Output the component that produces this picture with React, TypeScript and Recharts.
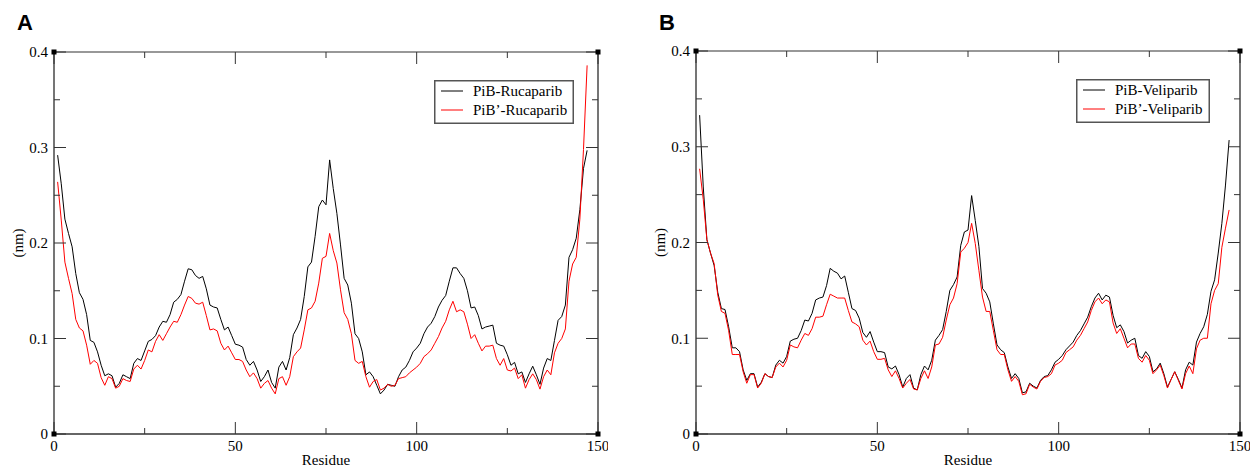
import React from 'react';
import { LineChart, Line, XAxis, YAxis, Legend, ReferenceDot } from 'recharts';

// residue numbers on the x axis
const residues = Array.from({ length: 147 }, (_, i) => i + 1);

const xMajor = [0, 50, 100, 150];
const xMinor = [25, 75, 125];
const yMajor = [0, 0.1, 0.2, 0.3, 0.4];
const yMinor = [0.05, 0.15, 0.25, 0.35];

const rucaNames: [string, string] = ['PiB-Rucaparib', 'PiB\u2019-Rucaparib'];
const veliNames: [string, string] = ['PiB-Veliparib', 'PiB\u2019-Veliparib'];

const rucaBlack = [
  0.292, 0.262, 0.225, 0.210, 0.196, 0.168, 0.148, 0.141, 0.125, 0.098,
  0.096, 0.086, 0.072, 0.061, 0.063, 0.061, 0.049, 0.053, 0.062, 0.060,
  0.058, 0.074, 0.079, 0.077, 0.087, 0.097, 0.099, 0.103, 0.112, 0.118,
  0.117, 0.125, 0.138, 0.141, 0.146, 0.160, 0.173, 0.172, 0.166, 0.163,
  0.165, 0.152, 0.135, 0.133, 0.132, 0.120, 0.109, 0.112, 0.103, 0.094,
  0.093, 0.091, 0.078, 0.072, 0.076, 0.067, 0.055, 0.060, 0.067, 0.054,
  0.048, 0.070, 0.076, 0.067, 0.080, 0.104, 0.111, 0.120, 0.144, 0.175,
  0.180, 0.207, 0.238, 0.245, 0.240, 0.287, 0.257, 0.231, 0.198, 0.163,
  0.156, 0.137, 0.105, 0.100, 0.086, 0.062, 0.065, 0.060, 0.051, 0.042,
  0.046, 0.052, 0.051, 0.050, 0.060, 0.067, 0.070, 0.077, 0.086, 0.090,
  0.095, 0.105, 0.112, 0.116, 0.123, 0.133, 0.140, 0.145, 0.160, 0.174,
  0.174, 0.168, 0.163, 0.150, 0.132, 0.133, 0.124, 0.110, 0.112, 0.113,
  0.114, 0.095, 0.093, 0.092, 0.083, 0.072, 0.075, 0.063, 0.065, 0.054,
  0.063, 0.071, 0.062, 0.052, 0.069, 0.079, 0.077, 0.098, 0.119, 0.123,
  0.135, 0.185, 0.193, 0.205, 0.235, 0.278, 0.297,
];

const rucaRed = [
  0.264, 0.224, 0.180, 0.163, 0.147, 0.120, 0.111, 0.108, 0.093, 0.073,
  0.077, 0.074, 0.059, 0.051, 0.060, 0.058, 0.048, 0.050, 0.058, 0.056,
  0.055, 0.068, 0.072, 0.068, 0.077, 0.088, 0.086, 0.097, 0.104, 0.098,
  0.105, 0.112, 0.118, 0.117, 0.125, 0.135, 0.144, 0.142, 0.137, 0.136,
  0.138, 0.124, 0.109, 0.110, 0.108, 0.095, 0.088, 0.092, 0.085, 0.078,
  0.078, 0.076, 0.067, 0.060, 0.064, 0.058, 0.048, 0.053, 0.056, 0.048,
  0.042, 0.058, 0.060, 0.051, 0.060, 0.081, 0.086, 0.090, 0.109, 0.130,
  0.132, 0.139, 0.158, 0.184, 0.186, 0.210, 0.192, 0.179, 0.151, 0.127,
  0.120, 0.105, 0.077, 0.074, 0.076, 0.060, 0.049, 0.055, 0.057, 0.046,
  0.048, 0.052, 0.050, 0.051, 0.058, 0.059, 0.060, 0.064, 0.067, 0.070,
  0.074, 0.081, 0.084, 0.088, 0.095, 0.102, 0.111, 0.118, 0.130, 0.139,
  0.128, 0.130, 0.128, 0.115, 0.100, 0.104, 0.095, 0.087, 0.092, 0.092,
  0.093, 0.079, 0.072, 0.079, 0.067, 0.066, 0.069, 0.058, 0.062, 0.048,
  0.057, 0.063, 0.057, 0.047, 0.060, 0.067, 0.062, 0.085, 0.095, 0.100,
  0.110, 0.160, 0.178, 0.185, 0.225, 0.298, 0.386,
];

const veliBlack = [
  0.333, 0.258, 0.203, 0.189, 0.176, 0.148, 0.131, 0.130, 0.112, 0.090,
  0.090, 0.086, 0.067, 0.056, 0.063, 0.063, 0.049, 0.054, 0.063, 0.060,
  0.059, 0.072, 0.077, 0.074, 0.081, 0.097, 0.099, 0.100, 0.108, 0.119,
  0.118, 0.126, 0.140, 0.142, 0.143, 0.155, 0.173, 0.170, 0.168, 0.162,
  0.165, 0.148, 0.131, 0.129, 0.121, 0.106, 0.101, 0.107, 0.096, 0.086,
  0.086, 0.085, 0.070, 0.068, 0.071, 0.062, 0.049, 0.058, 0.062, 0.048,
  0.046, 0.062, 0.071, 0.067, 0.077, 0.098, 0.103, 0.109, 0.128, 0.150,
  0.156, 0.164, 0.197, 0.211, 0.213, 0.249, 0.223, 0.196, 0.152, 0.147,
  0.138, 0.115, 0.093, 0.088, 0.085, 0.070, 0.058, 0.063, 0.058, 0.043,
  0.044, 0.053, 0.050, 0.048, 0.056, 0.060, 0.061, 0.067, 0.075, 0.078,
  0.082, 0.088, 0.092, 0.096, 0.103, 0.108, 0.115, 0.122, 0.133, 0.142,
  0.147, 0.140, 0.145, 0.143, 0.124, 0.111, 0.114, 0.107, 0.095, 0.098,
  0.100, 0.082, 0.079, 0.086, 0.081, 0.065, 0.068, 0.074, 0.063, 0.049,
  0.057, 0.065, 0.057, 0.048, 0.067, 0.075, 0.072, 0.096, 0.105, 0.112,
  0.125, 0.149, 0.161, 0.189, 0.220, 0.260, 0.307,
];

const veliRed = [
  0.277, 0.245, 0.203, 0.189, 0.178, 0.145, 0.128, 0.126, 0.108, 0.083,
  0.083, 0.083, 0.065, 0.053, 0.062, 0.062, 0.048, 0.053, 0.063, 0.060,
  0.059, 0.070, 0.074, 0.070, 0.077, 0.093, 0.091, 0.090, 0.098, 0.105,
  0.103, 0.110, 0.122, 0.122, 0.123, 0.135, 0.146, 0.144, 0.142, 0.142,
  0.142, 0.129, 0.117, 0.115, 0.112, 0.098, 0.093, 0.097, 0.086, 0.078,
  0.078, 0.079, 0.067, 0.060, 0.066, 0.058, 0.048, 0.053, 0.057, 0.047,
  0.046, 0.058, 0.066, 0.058, 0.070, 0.093, 0.094, 0.101, 0.119, 0.135,
  0.142, 0.157, 0.190, 0.194, 0.200, 0.220, 0.199, 0.171, 0.143, 0.128,
  0.128, 0.108, 0.088, 0.083, 0.083, 0.067, 0.055, 0.060, 0.055, 0.041,
  0.042, 0.052, 0.049, 0.047, 0.055, 0.059, 0.060, 0.063, 0.072, 0.074,
  0.077, 0.085, 0.088, 0.091, 0.098, 0.103, 0.110, 0.117, 0.129, 0.138,
  0.142, 0.136, 0.140, 0.138, 0.116, 0.105, 0.110, 0.100, 0.090, 0.094,
  0.094, 0.079, 0.075, 0.082, 0.077, 0.063, 0.067, 0.072, 0.061, 0.048,
  0.057, 0.065, 0.056, 0.047, 0.063, 0.071, 0.063, 0.089, 0.098, 0.100,
  0.100, 0.136, 0.150, 0.157, 0.195, 0.215, 0.234,
];

const SERIF = 'Liberation Serif, Times New Roman, serif';
const tickText = { fontSize: 15, fontFamily: SERIF, fill: '#000' };
const frame = { stroke: '#666', strokeWidth: 1.8 };

const fmtY = (v: number) => (v === 0 ? '0' : v.toFixed(1));

// xmgrace style: ticks point into the plot on all four sides
type TickMark = { x: number; y: number; dx: number; dy: number; len: number };
const tickMarks: TickMark[] = [
  ...xMajor.map((x) => ({ x, y: 0, dx: 0, dy: -1, len: 12 })),
  ...xMinor.map((x) => ({ x, y: 0, dx: 0, dy: -1, len: 6 })),
  ...xMajor.map((x) => ({ x, y: 0.4, dx: 0, dy: 1, len: 12 })),
  ...xMinor.map((x) => ({ x, y: 0.4, dx: 0, dy: 1, len: 6 })),
  ...yMajor.map((y) => ({ x: 0, y, dx: 1, dy: 0, len: 12 })),
  ...yMinor.map((y) => ({ x: 0, y, dx: 1, dy: 0, len: 6 })),
  ...yMajor.map((y) => ({ x: 150, y, dx: -1, dy: 0, len: 12 })),
  ...yMinor.map((y) => ({ x: 150, y, dx: -1, dy: 0, len: 6 })),
];

const corners = [
  { x: 0, y: 0 },
  { x: 0, y: 0.4 },
  { x: 150, y: 0 },
  { x: 150, y: 0.4 },
];

const cornerShape = (p: any) => <rect x={p.cx - 2.5} y={p.cy - 2.5} width={5} height={5} fill="#000" />;

const tickShape = (t: TickMark) => (p: any) => (
  <line
    x1={p.cx}
    y1={p.cy}
    x2={p.cx + t.dx * t.len}
    y2={p.cy + t.dy * t.len}
    stroke="#333"
    strokeWidth={1}
  />
);

const LegendBox = ({ payload, width }: { payload?: any[]; width: number }) => (
  <svg width={width} height={44} style={{ display: 'block' }}>
    <rect x={0.75} y={0.75} width={width - 1.5} height={42.5} fill="#fff" stroke="#555" strokeWidth={1.5} />
    {(payload || []).map((p, i) => (
      <g key={p.value}>
        <line x1={7} x2={29} y1={11 + i * 19} y2={11 + i * 19} stroke={p.color} strokeWidth={1} />
        <text x={39} y={16 + i * 19} fontSize={15} fontFamily={SERIF} fill="#000">
          {p.value}
        </text>
      </g>
    ))}
  </svg>
);

type PanelProps = {
  names: [string, string];
  black: number[];
  red: number[];
  top: number;
  legendWidth: number;
  legendTop: number;
};

const Panel = ({ names, black, red, top, legendWidth, legendTop }: PanelProps) => {
  const data = residues.map((r, i) => ({ residue: r, black: black[i], red: red[i] }));
  const midY = (top + 426) / 2;
  return (
    <LineChart width={600} height={464} data={data} margin={{ top, right: 10, left: 0, bottom: 8 }}>
      <XAxis
        xAxisId="bottom"
        dataKey="residue"
        type="number"
        domain={[0, 150]}
        ticks={xMajor}
        interval={0}
        height={30}
        tickSize={0}
        tickMargin={6}
        tickLine={false}
        tick={tickText}
        axisLine={frame}
        label={() => (
          <text x={318} y={457} textAnchor="middle" fontSize={15} fontFamily={SERIF} fill="#000">
            Residue
          </text>
        )}
      />
      <XAxis xAxisId="top" orientation="top" mirror type="number" domain={[0, 150]} ticks={xMajor}
        tick={false} tickLine={false} axisLine={{ stroke: '#333', strokeWidth: 1.2 }} />
      <YAxis
        yAxisId="left"
        type="number"
        domain={[0, 0.4]}
        ticks={yMajor}
        interval={0}
        width={46}
        tickSize={0}
        tickMargin={6}
        tickLine={false}
        tick={tickText}
        tickFormatter={fmtY}
        axisLine={frame}
        label={() => (
          <text
            x={10}
            y={midY}
            transform={`rotate(-90, 10, ${midY})`}
            textAnchor="middle"
            dy={5}
            fontSize={15}
            fontFamily={SERIF}
            fill="#000"
          >
            (nm)
          </text>
        )}
      />
      <YAxis yAxisId="right" orientation="right" mirror type="number" domain={[0, 0.4]} ticks={yMajor}
        tick={false} tickLine={false} axisLine={frame} />

      <Legend
        layout="vertical"
        align="center"
        verticalAlign="middle"
        wrapperStyle={{ left: 426, top: legendTop, width: legendWidth, height: 44 }}
        content={(p: any) => <LegendBox payload={p.payload} width={legendWidth} />}
      />
      <Line
        xAxisId="bottom"
        yAxisId="left"
        type="linear"
        dataKey="black"
        name={names[0]}
        stroke="#000000"
        strokeWidth={1}
        dot={false}
        isAnimationActive={false}
      />
      <Line
        xAxisId="bottom"
        yAxisId="left"
        type="linear"
        dataKey="red"
        name={names[1]}
        stroke="#ff0000"
        strokeWidth={1}
        dot={false}
        isAnimationActive={false}
      />
      {tickMarks.map((t) => (
        <ReferenceDot
          key={`t-${t.x}-${t.y}-${t.dx}-${t.dy}`}
          xAxisId="bottom"
          yAxisId="left"
          x={t.x}
          y={t.y}
          r={1}
          ifOverflow="visible"
          shape={tickShape(t)}
        />
      ))}
      {corners.map((c) => (
        <ReferenceDot
          key={`c-${c.x}-${c.y}`}
          xAxisId="bottom"
          yAxisId="left"
          x={c.x}
          y={c.y}
          r={3}
          ifOverflow="visible"
          shape={cornerShape}
        />
      ))}
    </LineChart>
  );
};

const letterStyle: React.CSSProperties = {
  position: 'absolute',
  top: 12,
  fontFamily: 'Liberation Sans, Arial, sans-serif',
  fontWeight: 'bold',
  fontSize: 22,
  lineHeight: '22px',
  color: '#000',
};

export default function App() {
  return (
    <div style={{ position: 'relative', width: 1253, height: 472, background: '#fff', overflow: 'hidden' }}>
      <style>{'html,body{margin:0;overflow:hidden;background:#fff}'}</style>
      <div style={{ ...letterStyle, left: 17 }}>A</div>
      <div style={{ ...letterStyle, left: 659 }}>B</div>
      <div style={{ position: 'absolute', left: 8, top: 8 }}>
        <Panel names={rucaNames} black={rucaBlack} red={rucaRed} top={44} legendWidth={140} legendTop={72} />
      </div>
      <div style={{ position: 'absolute', left: 650, top: 8 }}>
        <Panel names={veliNames} black={veliBlack} red={veliRed} top={43} legendWidth={134} legendTop={71} />
      </div>
    </div>
  );
}
